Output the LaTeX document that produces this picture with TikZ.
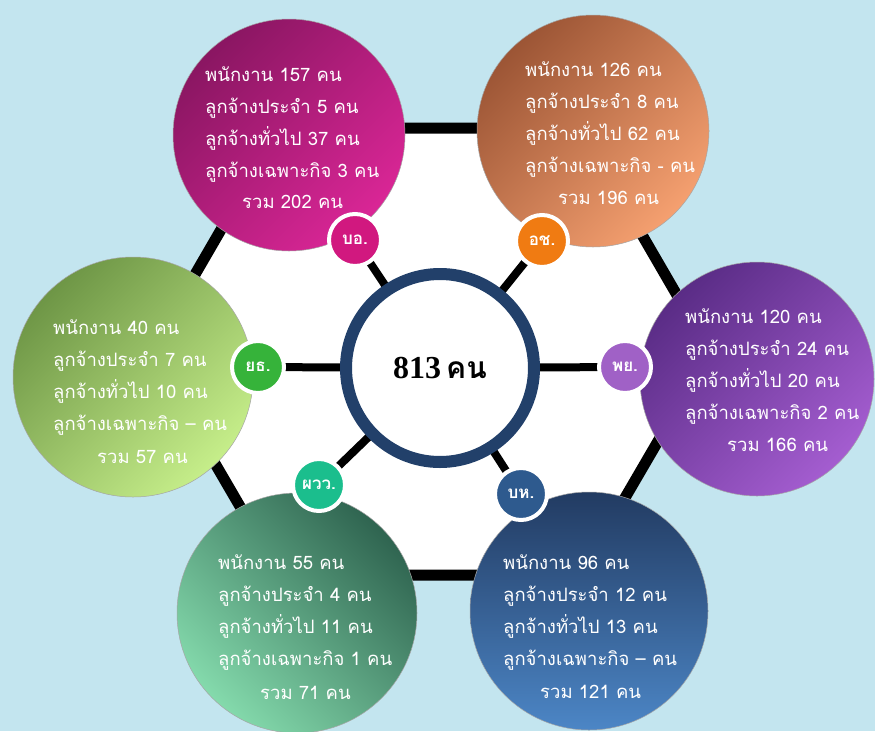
\documentclass[tikz,border=0pt]{standalone}
\usepackage{fontspec}
\newfontfamily\thai[Script=Thai]{Loma}
\newfontfamily\numserif{Liberation Serif}
\definecolor{bgblue}{HTML}{C3E5EF}
\definecolor{ring}{HTML}{22406A}
\definecolor{boA}{HTML}{8A1662}\definecolor{boB}{HTML}{DA2696}
\definecolor{ocA}{HTML}{9C5535}\definecolor{ocB}{HTML}{F5A070}
\definecolor{pyA}{HTML}{5A2C86}\definecolor{pyB}{HTML}{A45DD0}
\definecolor{ytA}{HTML}{6E9646}\definecolor{ytB}{HTML}{C6EE8A}
\definecolor{pwA}{HTML}{2F6450}\definecolor{pwB}{HTML}{84DAAC}
\definecolor{bhA}{HTML}{223B62}\definecolor{bhB}{HTML}{4C86C6}
\definecolor{boC}{HTML}{D1187F}\definecolor{ocC}{HTML}{F07B12}
\definecolor{pyC}{HTML}{A061C6}\definecolor{ytC}{HTML}{36B33A}
\definecolor{pwC}{HTML}{1BBE8D}\definecolor{bhC}{HTML}{2E5A8E}
\pgfdeclarelayer{bg}\pgfdeclarelayer{back}\pgfsetlayers{bg,back,main}
\tikzset{
  bigc/.style={circle, minimum size=#1, inner sep=0pt, draw=black!35, line width=0.5pt},
  badge/.style={circle, minimum size=52pt, inner sep=0pt, draw=white, line width=4pt,
    fill=#1, text=white, font=\thai\bfseries\fontsize{17}{17}\selectfont},
  info/.style={anchor=base west, inner sep=0pt, text=white, font=\thai\fontsize{18.5}{20}\selectfont},
  spoke/.style={draw=black, line width=8pt},
  hexa/.style={fill=white, draw=black, line width=11pt, line join=miter}
}
\begin{document}
\begin{tikzpicture}[x=1pt,y=-1pt]
\useasboundingbox (0,0) rectangle (875,731);
\begin{pgfonlayer}{bg}
\fill[bgblue] (0,0) rectangle (875,731);
\path[hexa] (280,128) -- (580,128) -- (710,352) -- (580,575) -- (280,575) -- (150,352) -- cycle;
\end{pgfonlayer}
% centre
\node[circle, minimum size=188pt, inner sep=0pt, draw=ring, line width=12pt, fill=white,
  font=\bfseries\fontsize{32}{32}\selectfont] (c) at (440,368) {{\numserif 813}\hspace{5pt}{\thai\fontsize{30}{30}\selectfont คน}};
% big circles
\node[bigc=232pt, top color=boA, bottom color=boB, shading angle=45] (bo) at (289,135) {};
\node[bigc=232pt, top color=ocA, bottom color=ocB, shading angle=45] (oc) at (593,131) {};
\node[bigc=234pt, top color=pyA, bottom color=pyB, shading angle=45] (py) at (757,379) {};
\node[bigc=240pt, top color=ytA, bottom color=ytB, shading angle=45] (yt) at (133,377) {};
\node[bigc=240pt, top color=pwA, bottom color=pwB, shading angle=-45] (pw) at (297,613) {};
\node[bigc=238pt, top color=bhA, bottom color=bhB] (bh) at (589,611) {};
% badges
\node[badge=boC] (bob) at (355,240) {บอ.};
\node[badge=ocC] (ocb) at (542,241) {อช.};
\node[badge=pyC] (pyb) at (625,367) {พย.};
\node[badge=ytC] (ytb) at (258,367) {ยธ.};
\node[badge=pwC] (pwb) at (319,485) {ผวว.};
\node[badge=bhC] (bhb) at (521,494) {บห.};
% spokes
\begin{pgfonlayer}{back}
\foreach \b in {bob,ocb,pyb,ytb,pwb,bhb} \draw[spoke] (c.center) -- (\b.center);
\end{pgfonlayer}
% texts
\foreach \t [count=\i from 0] in {พนักงาน 157 คน, ลูกจ้างประจำ 5 คน, ลูกจ้างทั่วไป 37 คน, ลูกจ้างเฉพาะกิจ 3 คน}
  \node[info] (bo-t\i) at (205,{81+32*\i}) {\t};
\node[info] (bo-t4) at (242,208) {รวม 202 คน};
\foreach \t [count=\i from 0] in {พนักงาน 126 คน, ลูกจ้างประจำ 8 คน, ลูกจ้างทั่วไป 62 คน, ลูกจ้างเฉพาะกิจ - คน}
  \node[info] (oc-t\i) at (525,{76+32*\i}) {\t};
\node[info] (oc-t4) at (558,204) {รวม 196 คน};
\foreach \t [count=\i from 0] in {พนักงาน 120 คน, ลูกจ้างประจำ 24 คน, ลูกจ้างทั่วไป 20 คน, ลูกจ้างเฉพาะกิจ 2 คน}
  \node[info] (py-t\i) at (685,{323+32*\i}) {\t};
\node[info] (py-t4) at (727,451) {รวม 166 คน};
\foreach \t [count=\i from 0] in {พนักงาน 40 คน, ลูกจ้างประจำ 7 คน, ลูกจ้างทั่วไป 10 คน, ลูกจ้างเฉพาะกิจ – คน}
  \node[info] (yt-t\i) at (53,{334+32*\i}) {\t};
\node[info] (yt-t4) at (97,463) {รวม 57 คน};
\foreach \t [count=\i from 0] in {พนักงาน 55 คน, ลูกจ้างประจำ 4 คน, ลูกจ้างทั่วไป 11 คน, ลูกจ้างเฉพาะกิจ 1 คน}
  \node[info] (pw-t\i) at (218,{569+32*\i}) {\t};
\node[info] (pw-t4) at (260,699) {รวม 71 คน};
\foreach \t [count=\i from 0] in {พนักงาน 96 คน, ลูกจ้างประจำ 12 คน, ลูกจ้างทั่วไป 13 คน, ลูกจ้างเฉพาะกิจ – คน}
  \node[info] (bh-t\i) at (503,{569+32*\i}) {\t};
\node[info] (bh-t4) at (540,698) {รวม 121 คน};
\end{tikzpicture}
\end{document}
